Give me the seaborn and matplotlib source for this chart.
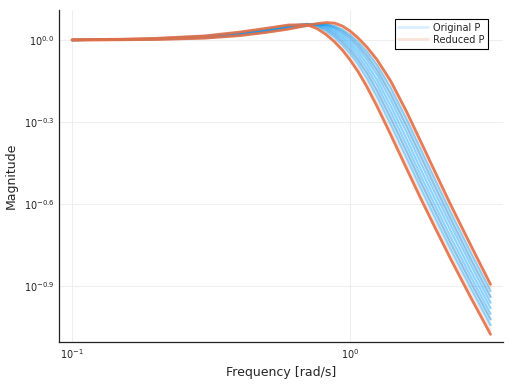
import pandas as pd
import matplotlib
matplotlib.use("Agg")
import matplotlib.pyplot as plt
import seaborn as sns
from matplotlib.lines import Line2D
from matplotlib.ticker import NullLocator

# --- DATA (magnitude stored as log10) ---
freq = [0.1, 0.15, 0.2, 0.3, 0.4, 0.5, 0.6, 0.7, 0.76, 0.82, 0.88, 0.94,
        1.0, 1.07, 1.15, 1.25, 1.4, 1.6, 1.8, 2.0, 2.3, 2.7, 3.2]

# Original P (blue bundle)
orig_1 = [0.000, 0.002, 0.005, 0.014, 0.026, 0.040, 0.052, 0.059, 0.051, 0.033, 0.010, -0.018,
          -0.049, -0.089, -0.140, -0.207, -0.309, -0.434, -0.545, -0.641, -0.766, -0.903, -1.044]
orig_2 = [0.000, 0.002, 0.005, 0.013, 0.025, 0.038, 0.051, 0.058, 0.054, 0.040, 0.019, -0.007,
          -0.036, -0.074, -0.121, -0.186, -0.286, -0.410, -0.522, -0.618, -0.744, -0.882, -1.023]
orig_3 = [0.000, 0.002, 0.004, 0.012, 0.023, 0.037, 0.049, 0.057, 0.057, 0.046, 0.027, 0.004,
          -0.023, -0.059, -0.104, -0.165, -0.263, -0.387, -0.499, -0.596, -0.722, -0.861, -1.003]
orig_4 = [0.000, 0.002, 0.004, 0.011, 0.022, 0.035, 0.048, 0.057, 0.058, 0.050, 0.034, 0.013,
          -0.012, -0.045, -0.088, -0.146, -0.241, -0.364, -0.476, -0.573, -0.699, -0.840, -0.982]
orig_5 = [0.000, 0.002, 0.004, 0.010, 0.021, 0.033, 0.046, 0.055, 0.058, 0.054, 0.041, 0.022,
          -0.001, -0.032, -0.072, -0.127, -0.219, -0.340, -0.452, -0.550, -0.677, -0.818, -0.962]
orig_6 = [0.000, 0.002, 0.003, 0.009, 0.019, 0.032, 0.044, 0.054, 0.058, 0.057, 0.046, 0.030,
          0.009, -0.020, -0.058, -0.110, -0.198, -0.317, -0.428, -0.527, -0.655, -0.797, -0.941]
orig_7 = [0.000, 0.002, 0.003, 0.008, 0.018, 0.030, 0.043, 0.052, 0.057, 0.059, 0.051, 0.037,
          0.018, -0.009, -0.044, -0.093, -0.177, -0.294, -0.405, -0.504, -0.633, -0.775, -0.920]

# Reduced P (red bundle): two outer edges + faint inner lines
red_lo = [0.001, 0.003, 0.006, 0.015, 0.029, 0.043, 0.055, 0.056, 0.042, 0.020, -0.007, -0.038,
          -0.073, -0.117, -0.172, -0.243, -0.347, -0.473, -0.583, -0.678, -0.802, -0.938, -1.078]
red_hi = [0.000, 0.001, 0.002, 0.007, 0.016, 0.028, 0.040, 0.054, 0.060, 0.064, 0.062, 0.051,
          0.033, 0.007, -0.026, -0.072, -0.150, -0.264, -0.374, -0.473, -0.603, -0.746, -0.895]
red_2 = [0.000, 0.002, 0.006, 0.015, 0.028, 0.042, 0.054, 0.058, 0.046, 0.026, 0.000, -0.029,
         -0.063, -0.106, -0.159, -0.228, -0.332, -0.458, -0.568, -0.663, -0.787, -0.924, -1.064]
red_3 = [0.000, 0.002, 0.005, 0.013, 0.025, 0.038, 0.051, 0.058, 0.054, 0.040, 0.019, -0.007,
         -0.036, -0.074, -0.121, -0.186, -0.286, -0.410, -0.522, -0.618, -0.744, -0.882, -1.023]
red_4 = [0.000, 0.002, 0.003, 0.009, 0.019, 0.032, 0.044, 0.054, 0.058, 0.057, 0.046, 0.030,
         0.009, -0.020, -0.058, -0.110, -0.198, -0.317, -0.428, -0.527, -0.655, -0.797, -0.941]
red_5 = [0.000, 0.001, 0.002, 0.007, 0.017, 0.029, 0.041, 0.051, 0.056, 0.059, 0.053, 0.041,
         0.023, -0.002, -0.035, -0.082, -0.163, -0.279, -0.389, -0.489, -0.618, -0.760, -0.907]

ytick_vals = [0.0, -0.3, -0.6, -0.9]
ytick_labels = [r"$10^{0.0}$", r"$10^{-0.3}$", r"$10^{-0.6}$", r"$10^{-0.9}$"]
xtick_vals = [0.1, 1.0]
xtick_labels = [r"$10^{-1}$", r"$10^{0}$"]

BLUE = "#009AFA"
RED = "#E26F46"


def to_long(curves, name):
    rows = []
    for k, c in enumerate(curves):
        for w, m in zip(freq, c):
            rows.append({"freq": w, "mag": 10 ** m, "curve": f"{name}_{k}"})
    return pd.DataFrame(rows)


df_orig = to_long([orig_1, orig_2, orig_3, orig_4, orig_5, orig_6, orig_7], "orig")
df_red_faint = to_long([red_2, red_3, red_4, red_5], "redf")
df_red_edge = to_long([red_lo, red_hi], "rede")

sns.set_style("white")
fig = plt.figure(figsize=(5.12, 3.84), dpi=100)
ax = fig.add_axes([59 / 512, 42 / 384, 444 / 512, 332 / 384])
ax.set_xscale("log")
ax.set_yscale("log")

# faint red underneath, blue bundle, then the two strong red edges
sns.lineplot(data=df_red_faint, x="freq", y="mag", units="curve", estimator=None,
             color=RED, alpha=0.18, lw=2.0, ax=ax, legend=False)
sns.lineplot(data=df_orig, x="freq", y="mag", units="curve", estimator=None,
             color=BLUE, alpha=0.45, lw=1.6, ax=ax, legend=False)
sns.lineplot(data=df_red_edge, x="freq", y="mag", units="curve", estimator=None,
             color=RED, alpha=0.9, lw=2.0, ax=ax, legend=False)

# axes, ticks
ax.set_xlim(10 ** -1.047, 10 ** 0.55)
ax.set_ylim(10 ** -1.106, 10 ** 0.11)
ax.set_xticks(xtick_vals)
ax.set_xticklabels(xtick_labels)
ax.set_yticks([10 ** v for v in ytick_vals])
ax.set_yticklabels(ytick_labels)
ax.xaxis.set_minor_locator(NullLocator())
ax.yaxis.set_minor_locator(NullLocator())
ax.tick_params(direction="in", length=3, width=0.6, color="#555555",
               labelsize=7, labelcolor="#222222")
ax.grid(True, color="#ebebeb", lw=0.6)
for s in ["top", "right"]:
    ax.spines[s].set_visible(False)
for s in ["left", "bottom"]:
    ax.spines[s].set_color("#222222")
    ax.spines[s].set_linewidth(0.9)

ax.set_xlabel("Frequency [rad/s]", fontsize=9)
ax.set_ylabel("Magnitude", fontsize=9)

handles = [Line2D([0], [0], color=BLUE, alpha=0.15, lw=2),
           Line2D([0], [0], color=RED, alpha=0.2, lw=2)]
leg = ax.legend(handles, ["Original P", "Reduced P"], loc="upper right",
                bbox_to_anchor=(0.966, 0.973), borderaxespad=0, fontsize=7,
                frameon=True, fancybox=False, framealpha=1, edgecolor="black",
                handlelength=3.0, handletextpad=0.5, borderpad=0.4, labelspacing=0.2)
leg.get_frame().set_linewidth(0.8)

plt.savefig("out.png", dpi=100)
